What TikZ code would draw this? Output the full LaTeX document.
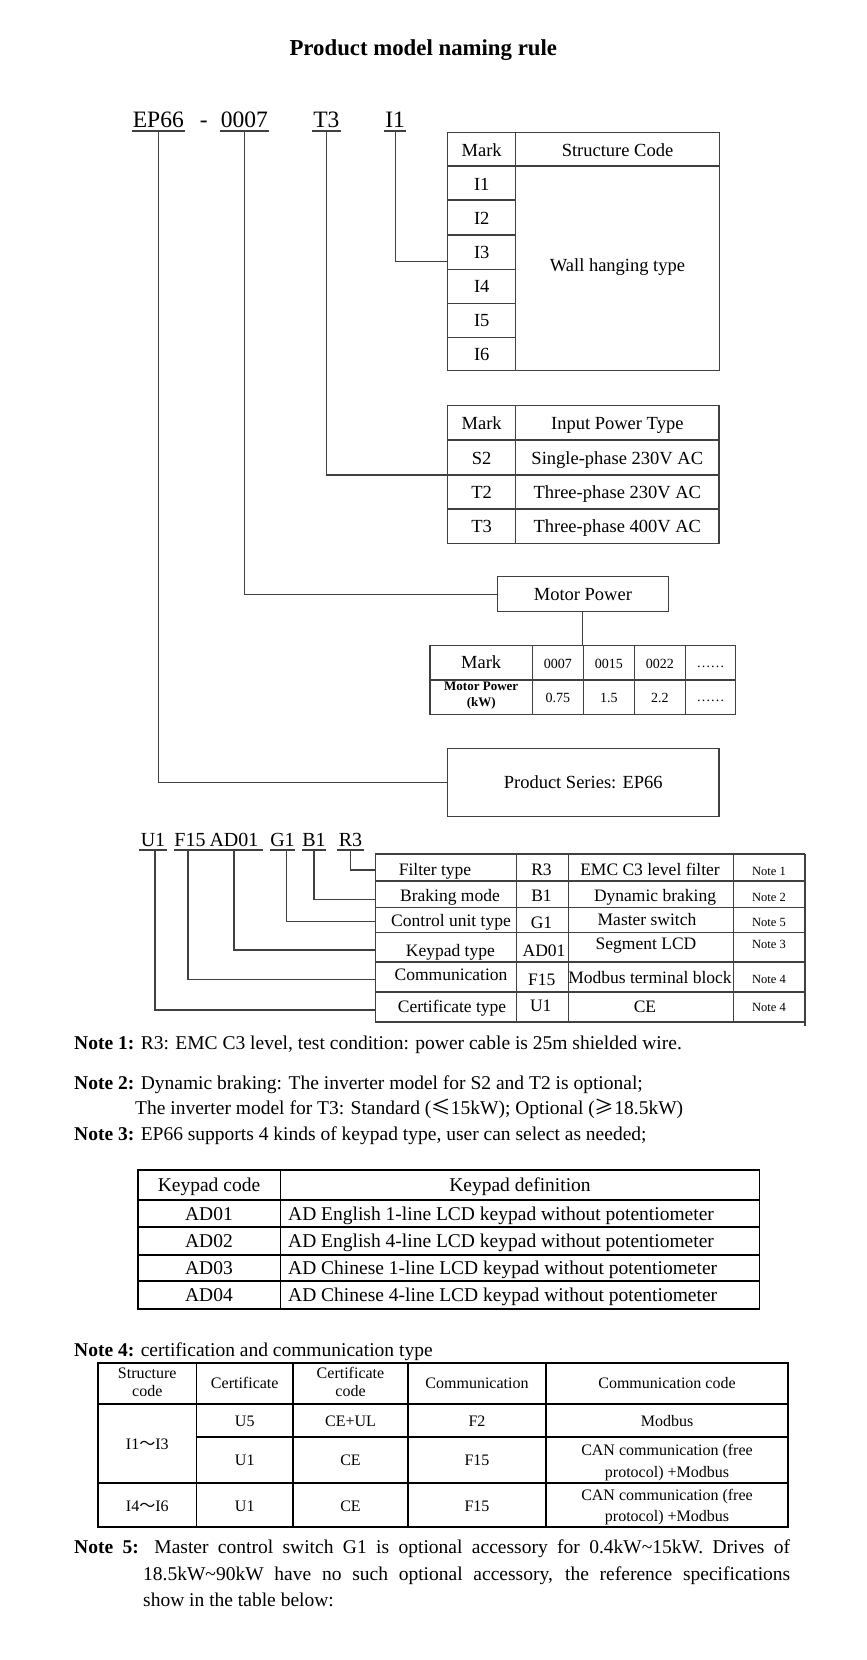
\documentclass[tikz,border=0pt]{standalone}
\usepackage{fontspec}
\setmainfont{Liberation Serif}
\newfontfamily\cjkf{Noto Sans CJK SC}
\begin{document}
\begin{tikzpicture}[x=1pt,y=-1pt,
  every node/.style={inner sep=0pt, anchor=base},
  ln/.style={line width=1.1pt, draw=black!75},
  tk/.style={line width=1.6pt, draw=black},
  ttl/.style={font=\fontsize{22.8}{27}\selectfont\bfseries},
  cda/.style={font=\fontsize{23.5}{28}\selectfont, inner xsep=1pt},
  cdb/.style={font=\fontsize{20}{24}\selectfont},
  tb/.style={font=\fontsize{18.5}{22}\selectfont},
  lt/.style={font=\fontsize{17.5}{21}\selectfont},
  ntl/.style={font=\fontsize{12.5}{15}\selectfont},
  mt/.style={font=\fontsize{14}{17}\selectfont},
  mb/.style={font=\fontsize{13}{15}\selectfont\bfseries},
  bd/.style={font=\fontsize{19.5}{23}\selectfont},
  nf/.style={font=\fontsize{16}{19}\selectfont},
  box/.style={draw=black!75, line width=1.1pt, anchor=center}
]
\useasboundingbox (0,0) rectangle (867,1660);
\fill[white] (0,0) rectangle (867,1660);

% title
\node[ttl] (title) at (423.3,55) {Product model naming rule};

% model code
\node[cda] (ep) at (158.3,127.3) {EP66};
\node[cda] (dash) at (203.8,127.3) {-};
\node[cda] (pw) at (244.3,127.3) {0007};
\node[cda] (vt) at (326.3,127.3) {T3};
\node[cda] (sc) at (395.2,127.3) {I1};
\foreach \n in {ep,pw,vt,sc}
  \draw[ln] ([yshift=-3.7pt]\n.base west) -- ([yshift=-3.7pt]\n.base east);

% structure table
\draw[ln] (447.7,132.3) rectangle (719.3,370.7);
\draw[ln] (515.7,132.3) -- (515.7,370.7);
\draw[ln] (447.7,166) -- (719.3,166);
\foreach \y in {200,235,269.3,303.3,337.3} \draw[ln] (447.7,\y) -- (515.7,\y);
\node[tb] (s-mark) at (481.7,156) {Mark};
\node[tb] (s-head) at (617.5,156) {Structure Code};
\node[tb] (s-i1) at (481.7,190) {I1};
\node[tb] (s-i2) at (481.7,224.3) {I2};
\node[tb] (s-i3) at (481.7,258.3) {I3};
\node[tb] (s-i4) at (481.7,292.3) {I4};
\node[tb] (s-i5) at (481.7,326.7) {I5};
\node[tb] (s-i6) at (481.7,360.7) {I6};
\node[tb] (s-wall) at (617.5,271) {Wall hanging type};
\coordinate (scin) at (447.7,261.7);

% input power table
\draw[ln] (447.7,405.7) rectangle (719,543.3);
\draw[ln] (515.7,405.7) -- (515.7,543.3);
\foreach \y in {440,475,509} \draw[ln] (447.7,\y) -- (719,\y);
\node[tb] (p-mark) at (481.7,429.3) {Mark};
\node[tb] (p-head) at (617.3,429.3) {Input Power Type};
\node[tb] (p-s2) at (481.7,464) {S2};
\node[tb] (p-s2t) at (617.3,464) {Single-phase 230V AC};
\node[tb] (p-t2) at (481.7,498.3) {T2};
\node[tb] (p-t2t) at (617.3,498.3) {Three-phase 230V AC};
\node[tb] (p-t3) at (481.7,532.7) {T3};
\node[tb] (p-t3t) at (617.3,532.7) {Three-phase 400V AC};
\coordinate (ipin) at (447.7,475);

% motor power
\node[box, tb, minimum width=170.3pt, minimum height=35pt] (mp) at (582.9,594.2) {Motor Power};
\draw[ln] (430,645.7) rectangle (735.7,714.3);
\draw[ln] (430,680) -- (735.7,680);
\foreach \x in {532.3,583.3,634.3,685.3} \draw[ln] (\x,645.7) -- (\x,714.3);
\coordinate (mtop) at (583.3,645.7);
\node[tb] (m-mark) at (481.2,668.5) {Mark};
\node[mt] (m-a) at (557.8,668.5) {0007};
\node[mt] (m-b) at (608.8,668.5) {0015};
\node[mt] (m-c) at (659.8,668.5) {0022};
\node[mt] (m-d) at (710.5,667.5) {……};
\node[mb] (m-pw1) at (481.2,690.7) {Motor Power};
\node[mb] (m-pw2) at (481.2,706.7) {(kW)};
\node[mt] (m-e) at (557.8,702) {0.75};
\node[mt] (m-f) at (608.8,702) {1.5};
\node[mt] (m-g) at (659.8,702) {2.2};
\node[mt] (m-h) at (710.5,701) {……};

% product series
\node[box, tb, minimum width=271.6pt, minimum height=68.4pt] (ps) at (583.2,782.5) {Product Series: EP66};

% top connectors
\draw[ln] ([yshift=-3.7pt]ep.base) |- (ps.west);
\draw[ln] ([yshift=-3.7pt]pw.base) |- (mp.west);
\draw[ln] ([yshift=-3.7pt]vt.base) |- (ipin);
\draw[ln] ([yshift=-3.7pt]sc.base) |- (scin);
\draw[ln] (mp.south) -- (mp.south |- mtop);

% option codes
\node[cdb, minimum width=28pt] (u1) at (153,846.7) {U1};
\node[cdb, minimum width=26pt] (f15) at (190,846.7) {F15};
\node[cdb, minimum width=57pt] (ad) at (234,846.7) {AD01};
\node[cdb, minimum width=23pt] (g1) at (282.5,846.7) {G1};
\node[cdb, minimum width=22pt] (b1) at (314,846.7) {B1};
\node[cdb, minimum width=27pt] (r3) at (350.5,846.7) {R3};
\foreach \n in {u1,f15,ad,g1,b1,r3}
  \draw[ln] ([yshift=-3.3pt]\n.base west) -- ([yshift=-3.3pt]\n.base east);

% option table
\draw[ln] (375.4,854) -- (805,854);
\draw[ln] (375.4,854) -- (375.4,1022);
\draw[ln] (805,854) -- (805,1026);
\foreach \y in {881,907.5,932.5,962,992,1022} \draw[ln] (375.4,\y) -- (805,\y);
\foreach \x in {516.4,568.7,733.8} \draw[ln] (\x,854) -- (\x,1022);
\coordinate (or3) at (375.4,870);
\coordinate (ob1) at (375.4,899.3);
\coordinate (og1) at (375.4,921.7);
\coordinate (oad) at (375.4,950);
\coordinate (of15) at (375.4,979.3);
\coordinate (ou1) at (375.4,1010);
\draw[ln] ([yshift=-3.3pt]r3.base) |- (or3);
\draw[ln] ([yshift=-3.3pt]b1.base) |- (ob1);
\draw[ln] ([yshift=-3.3pt,xshift=4pt]g1.base) |- (og1);
\draw[ln] ([yshift=-3.3pt]ad.base) |- (oad);
\draw[ln] ([yshift=-3.3pt,xshift=-2pt]f15.base) |- (of15);
\draw[ln] ([yshift=-3.3pt,xshift=2pt]u1.base) |- (ou1);

\node[lt] (o1a) at (435,875) {Filter type};
\node[lt] (o1b) at (541.5,875) {R3};
\node[lt] (o1c) at (650,875) {EMC C3 level filter};
\node[ntl] (o1d) at (769,875) {Note 1};
\node[lt] (o2a) at (450,901.5) {Braking mode};
\node[lt] (o2b) at (541.5,901.5) {B1};
\node[lt] (o2c) at (655,901.5) {Dynamic braking};
\node[ntl] (o2d) at (769,901.5) {Note 2};
\node[lt] (o3a) at (451,926.7) {Control unit type};
\node[lt] (o3b) at (541.5,928.3) {G1};
\node[lt] (o3c) at (647,925) {Master switch};
\node[ntl] (o3d) at (769,926) {Note 5};
\node[lt] (o4a) at (450.4,956.7) {Keypad type};
\node[lt] (o4b) at (544,956.7) {AD01};
\node[lt] (o4c) at (646,949.3) {Segment LCD};
\node[ntl] (o4d) at (769,948.3) {Note 3};
\node[lt] (o5a) at (451,980.7) {Communication};
\node[lt] (o5b) at (541.8,985) {F15};
\node[lt] (o5c) at (650,983.3) {Modbus terminal block};
\node[ntl] (o5d) at (769,983.3) {Note 4};
\node[lt] (o6a) at (452,1012.7) {Certificate type};
\node[lt] (o6b) at (540.7,1011.7) {U1};
\node[lt] (o6c) at (645,1012.7) {CE};
\node[ntl] (o6d) at (769,1011.7) {Note 4};

% notes
\node[bd, anchor=base west] (n1) at (74,1049) {\textbf{Note 1:} R3: EMC C3 level, test condition: power cable is 25m shielded wire.};
\node[bd, anchor=base west] (n2) at (74,1089) {\textbf{Note 2:} Dynamic braking: The inverter model for S2 and T2 is optional;};
\node[bd, anchor=base west] (n2b) at (135,1114) {The inverter model for T3: Standard ({\cjkf ≤}15kW); Optional ({\cjkf ≥}18.5kW)};
\node[bd, anchor=base west] (n3) at (74,1140) {\textbf{Note 3:} EP66 supports 4 kinds of keypad type, user can select as needed;};

% keypad table
\draw[tk] (137.7,1170) rectangle (759.3,1309);
\draw[tk] (280.6,1170) -- (280.6,1309);
\foreach \y in {1200,1227,1255,1281} \draw[tk] (137.7,\y) -- (759.3,\y);
\node[bd] (k0a) at (209,1191.5) {Keypad code};
\node[bd] (k0b) at (520,1191.5) {Keypad definition};
\node[bd] (k1a) at (209,1220) {AD01};
\node[bd, anchor=base west] (k1b) at (288,1220) {AD English 1-line LCD keypad without potentiometer};
\node[bd] (k2a) at (209,1247.5) {AD02};
\node[bd, anchor=base west] (k2b) at (288,1247.5) {AD English 4-line LCD keypad without potentiometer};
\node[bd] (k3a) at (209,1274.5) {AD03};
\node[bd, anchor=base west] (k3b) at (288,1274.5) {AD Chinese 1-line LCD keypad without potentiometer};
\node[bd] (k4a) at (209,1301.5) {AD04};
\node[bd, anchor=base west] (k4b) at (288,1301.5) {AD Chinese 4-line LCD keypad without potentiometer};

% note 4
\node[bd, anchor=base west] (n4) at (74,1356) {\textbf{Note 4:} certification and communication type};
\draw[tk] (98,1363) rectangle (788,1527);
\draw[tk] (98,1404) -- (788,1404);
\draw[tk] (196.5,1437) -- (788,1437);
\draw[tk] (98,1483) -- (788,1483);
\foreach \x in {196.5,293,408,546} \draw[tk] (\x,1363) -- (\x,1527);
\node[nf] (c0a1) at (147.25,1378) {Structure};
\node[nf] (c0a2) at (147.25,1396) {code};
\node[nf] (c0b) at (244.75,1388) {Certificate};
\node[nf] (c0c1) at (350.5,1378) {Certificate};
\node[nf] (c0c2) at (350.5,1396) {code};
\node[nf] (c0d) at (477,1388) {Communication};
\node[nf] (c0e) at (667,1388) {Communication code};
\node[nf] (c1a) at (147.25,1449) {I1{\cjkf ～}I3};
\node[nf] (c1b) at (244.75,1426) {U5};
\node[nf] (c1c) at (350.5,1426) {CE+UL};
\node[nf] (c1d) at (477,1426) {F2};
\node[nf] (c1e) at (667,1426) {Modbus};
\node[nf] (c2b) at (244.75,1465.5) {U1};
\node[nf] (c2c) at (350.5,1465.5) {CE};
\node[nf] (c2d) at (477,1465.5) {F15};
\node[nf] (c2e1) at (667,1455) {CAN communication (free};
\node[nf] (c2e2) at (667,1477) {protocol) +Modbus};
\node[nf] (c3a) at (147.25,1511) {I4{\cjkf ～}I6};
\node[nf] (c3b) at (244.75,1511) {U1};
\node[nf] (c3c) at (350.5,1511) {CE};
\node[nf] (c3d) at (477,1511) {F15};
\node[nf] (c3e1) at (667,1500) {CAN communication (free};
\node[nf] (c3e2) at (667,1521) {protocol) +Modbus};

% note 5
\node[bd, anchor=base west] (n5a) at (74,1553.5) {\makebox[716pt][s]{\textbf{Note 5:} Master control switch G1 is optional accessory for 0.4kW\textasciitilde15kW. Drives of}};
\node[bd, anchor=base west] (n5b) at (143,1580) {\makebox[647pt][s]{18.5kW\textasciitilde90kW have no such optional accessory, the reference specifications}};
\node[bd, anchor=base west] (n5c) at (143,1606) {show in the table below:};
\end{tikzpicture}
\end{document}
